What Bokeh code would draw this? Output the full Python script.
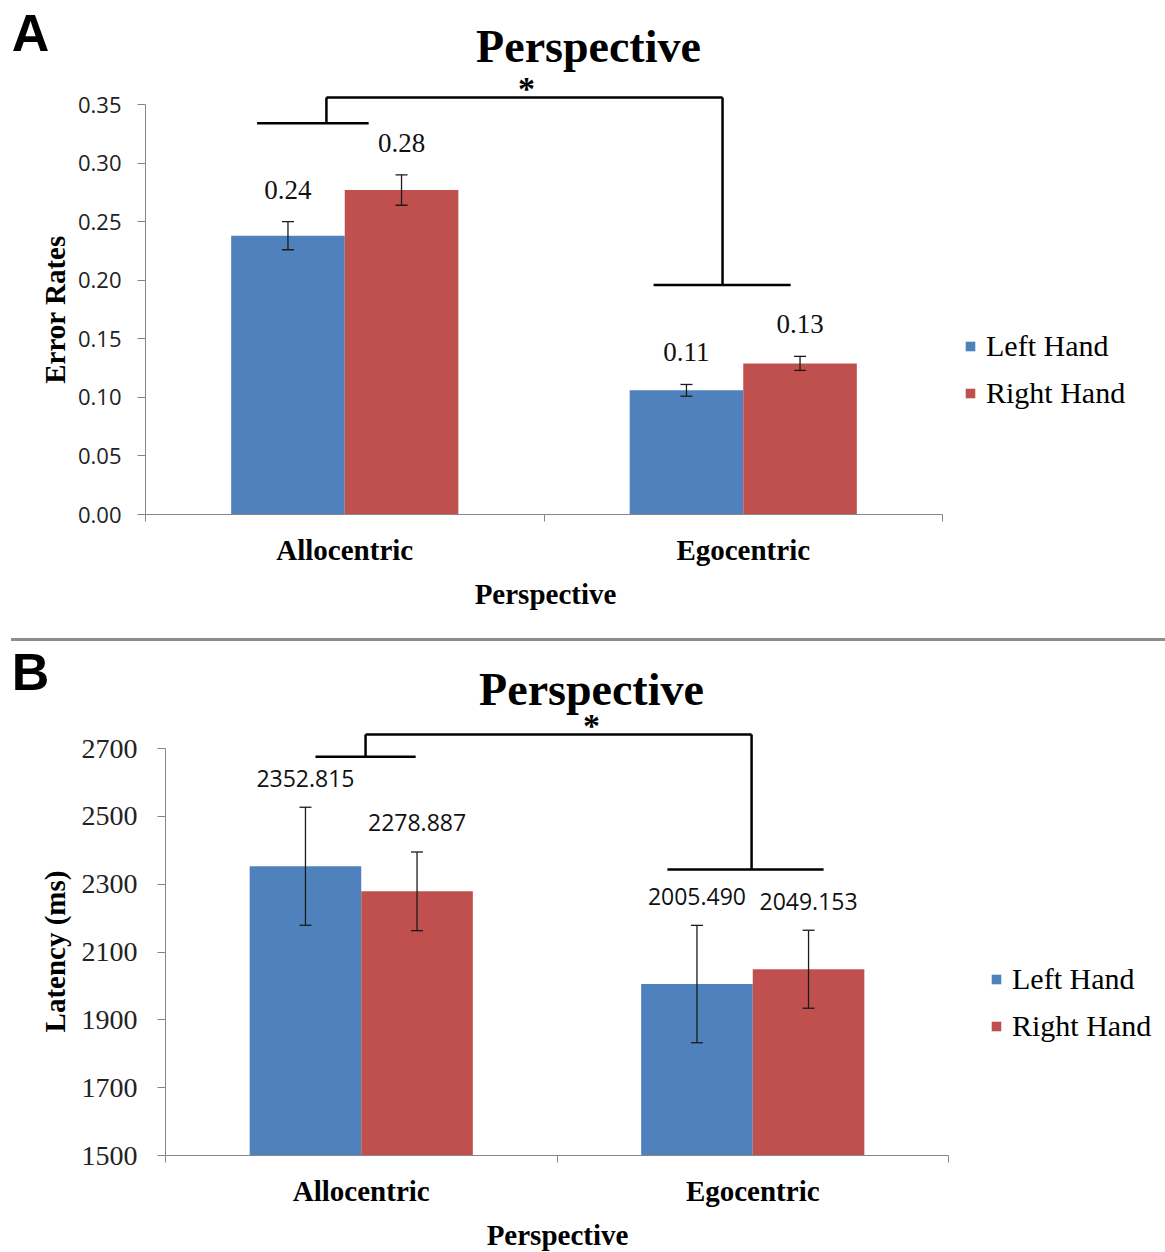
import math
from bokeh.plotting import figure
from bokeh.models import (Range1d, FixedTicker, NumeralTickFormatter, Whisker, TeeHead,
                          ColumnDataSource, Legend, LegendItem, Label, Div)
from bokeh.layouts import column
from bokeh.core.properties import value
from bokeh.embed import file_html
from bokeh.resources import INLINE

# ---------------- data ----------------
categories = ["Allocentric", "Egocentric"]
series = ["Left Hand", "Right Hand"]
colors = ["#4F81BD", "#C0504D"]

# Panel A: error rates
err_left = [0.238, 0.106]
err_right = [0.277, 0.129]
err_left_se = [0.012, 0.005]
err_right_se = [0.013, 0.006]
err_left_labels = ["0.24", "0.11"]
err_right_labels = ["0.28", "0.13"]
err_ticks = [0.00, 0.05, 0.10, 0.15, 0.20, 0.25, 0.30, 0.35]

# Panel B: latency (ms)
lat_left = [2352.815, 2005.490]
lat_right = [2278.887, 2049.153]
lat_left_se = [174, 173]
lat_right_se = [116, 115]
lat_left_labels = ["2352.815", "2005.490"]
lat_right_labels = ["2278.887", "2049.153"]
lat_ticks = [1500, 1700, 1900, 2100, 2300, 2500, 2700]

# significance brackets (x in category units, y in data units)
sigA_left_x = [0.28, 0.56]
sigA_left_y = 0.334
sigA_join_x = [0.454, 1.448]
sigA_top_y = 0.356
sigA_right_x = [1.275, 1.619]
sigA_right_y = 0.196

sigB_left_x = [0.383, 0.639]
sigB_left_y = 2676
sigB_join_x = [0.511, 1.497]
sigB_top_y = 2741
sigB_right_x = [1.282, 1.681]
sigB_right_y = 2343

W = 1165
BAR_W = 0.285
SERIF = "Liberation Serif"
SANS = "Open Sans"
AXIS_GRAY = "#868686"


def build(h, fl, ax_end_px, y_lo, y_hi, y_lo_px, y_hi_px, ticks, tick_fmt,
          tick_font, tick_size, tick_standoff, ylabel, ylabel_px, xlabel_px,
          left, right, left_se, right_se, left_lab, right_lab, lab_font, lab_size, lab_off,
          sig, letter, letter_px, title_px, legend_px, star_px_x):
    # pixel <-> data mapping (frame covers the whole canvas)
    pxx = (ax_end_px - fl) / 2.0
    pxy = (y_lo_px - y_hi_px) / (y_hi - y_lo)
    ax = lambda px: (px - fl) / pxx
    ay = lambda py: y_lo + (y_lo_px - py) / pxy
    p = figure(width=W, height=h,
               x_range=Range1d(ax(0), ax(W)),
               y_range=Range1d(ay(h), ay(0)),
               output_backend="svg", toolbar_location=None,
               min_border_left=0, min_border_right=0,
               min_border_top=0, min_border_bottom=0)
    p.xgrid.grid_line_color = None
    p.ygrid.grid_line_color = None
    p.outline_line_color = None
    p.background_fill_color = "white"
    p.border_fill_color = "white"

    centers = [i + 0.5 for i in range(len(categories))]
    xl = [c - BAR_W / 2 for c in centers]
    xr = [c + BAR_W / 2 for c in centers]
    rb = p.vbar(x=xl, top=left, bottom=y_lo, width=BAR_W, fill_color=colors[0], line_color=None)
    rr = p.vbar(x=xr, top=right, bottom=y_lo, width=BAR_W, fill_color=colors[1], line_color=None)

    for xs, m, se, labs in ((xl, left, left_se, left_lab), (xr, right, right_se, right_lab)):
        src = ColumnDataSource(dict(x=xs, upper=[a + b for a, b in zip(m, se)],
                                    lower=[a - b for a, b in zip(m, se)], lab=labs))
        wk = Whisker(base="x", upper="upper", lower="lower", source=src,
                     line_color="#1b1b1b", line_width=1.3,
                     upper_head=TeeHead(size=12, line_color="#1b1b1b", line_width=1.3),
                     lower_head=TeeHead(size=12, line_color="#1b1b1b", line_width=1.3))
        wk.level = "overlay"
        p.add_layout(wk)
        p.text(x="x", y="upper", text="lab", source=src, text_font=value(lab_font),
               text_font_size=lab_size, text_align="center", text_baseline="middle",
               y_offset=lab_off, text_color="#111111")

    # significance bracket
    (lx, ly, jx, ty, rx, ry) = sig
    p.segment(x0=[lx[0], jx[0], jx[0], jx[1], rx[0]],
              y0=[ly, ly, ty, ty, ry],
              x1=[lx[1], jx[0], jx[1], jx[1], rx[1]],
              y1=[ly, ty, ty, ry, ry], line_color="black", line_width=2.5)
    p.text(x=[ax(star_px_x)], y=[ty], text=["*"], text_font=value(SERIF),
           text_font_style="bold", text_font_size="34px", text_align="center",
           text_baseline="alphabetic", y_offset=-9, text_color="black")

    # axes (pinned at data positions)
    p.xaxis.fixed_location = y_lo
    p.xaxis.ticker = FixedTicker(ticks=centers, minor_ticks=[0, 1, 2])
    p.xaxis.major_label_overrides = {c: n for c, n in zip(centers, categories)}
    p.xaxis.bounds = (0, 2)
    p.xaxis.axis_line_color = AXIS_GRAY
    p.xaxis.major_tick_out = 0
    p.xaxis.major_tick_in = 0
    p.xaxis.minor_tick_out = 7
    p.xaxis.minor_tick_in = 0
    p.xaxis.minor_tick_line_color = AXIS_GRAY
    p.xaxis.major_label_text_font = SERIF
    p.xaxis.major_label_text_font_style = "bold"
    p.xaxis.major_label_text_font_size = "29px"
    p.xaxis.major_label_text_color = "black"
    p.xaxis.major_label_standoff = 12

    p.yaxis.fixed_location = 0
    p.yaxis.ticker = FixedTicker(ticks=ticks)
    p.yaxis.formatter = NumeralTickFormatter(format=tick_fmt)
    p.yaxis.bounds = (ticks[0], ticks[-1])
    p.yaxis.axis_line_color = AXIS_GRAY
    p.yaxis.major_tick_line_color = AXIS_GRAY
    p.yaxis.major_tick_out = 8
    p.yaxis.major_tick_in = 0
    p.yaxis.minor_tick_line_color = None
    p.yaxis.major_label_text_font = tick_font
    p.yaxis.major_label_text_font_size = tick_size
    p.yaxis.major_label_text_color = "#222222"
    p.yaxis.major_label_standoff = tick_standoff

    # axis titles, centred on the axis extents
    p.add_layout(Label(x=ax(xlabel_px[0]), y=ay(xlabel_px[1]), text="Perspective",
                       text_font=SERIF, text_font_style="bold", text_font_size="29px",
                       text_align="center", text_baseline="middle", text_color="black"))
    p.add_layout(Label(x=ax(ylabel_px[0]), y=ay(ylabel_px[1]), text=ylabel, angle=math.pi / 2,
                       text_font=SERIF, text_font_style="bold", text_font_size="29px",
                       text_align="center", text_baseline="middle", text_color="black"))

    legend = Legend(items=[LegendItem(label=series[0], renderers=[rb]),
                           LegendItem(label=series[1], renderers=[rr])],
                    location=(legend_px[0], h - legend_px[1]), glyph_width=12, glyph_height=12,
                    label_text_font=SERIF, label_text_font_size="30px",
                    label_text_color="black", label_standoff=10, spacing=13,
                    padding=0, margin=0, border_line_alpha=0, background_fill_alpha=0)
    p.add_layout(legend)

    p.add_layout(Label(x=ax(letter_px[0]), y=ay(letter_px[1]), text=letter,
                       text_font="Liberation Sans", text_font_style="bold",
                       text_font_size="52px", text_align="center", text_baseline="middle",
                       text_color="black"))
    p.add_layout(Label(x=ax(title_px[0]), y=ay(title_px[1]), text="Perspective",
                       text_font=SERIF, text_font_style="bold", text_font_size="46px",
                       text_align="center", text_baseline="middle", text_color="black"))
    return p


pA = build(h=638, fl=145, ax_end_px=942,
           y_lo=0.0, y_hi=0.35, y_lo_px=514, y_hi_px=104,
           ticks=err_ticks, tick_fmt="0.00", tick_font=SANS, tick_size="22px",
           tick_standoff=16, ylabel="Error Rates", ylabel_px=(54, 309), xlabel_px=(545, 593),
           left=err_left, right=err_right, left_se=err_left_se, right_se=err_right_se,
           left_lab=err_left_labels, right_lab=err_right_labels,
           lab_font=SERIF, lab_size="27px", lab_off=-32,
           sig=(sigA_left_x, sigA_left_y, sigA_join_x, sigA_top_y, sigA_right_x, sigA_right_y),
           letter="A", letter_px=(30, 32), title_px=(588, 46), legend_px=(964, 410),
           star_px_x=526)

sep = Div(text="", width=1154, height=3, margin=(0, 0, 0, 11),
          styles={"background-color": "#8c8c8c"})

# panel B figure starts at y = 641 in the page
TOP_B = 641
pB = build(h=611, fl=165, ax_end_px=948,
           y_lo=1500, y_hi=2700, y_lo_px=1155 - TOP_B, y_hi_px=748 - TOP_B,
           ticks=lat_ticks, tick_fmt="0", tick_font=SERIF, tick_size="28px",
           tick_standoff=20, ylabel="Latency (ms)", ylabel_px=(54, 951 - TOP_B),
           xlabel_px=(557, 1234 - TOP_B),
           left=lat_left, right=lat_right, left_se=lat_left_se, right_se=lat_right_se,
           left_lab=lat_left_labels, right_lab=lat_right_labels,
           lab_font=SANS, lab_size="23px", lab_off=-29,
           sig=(sigB_left_x, sigB_left_y, sigB_join_x, sigB_top_y, sigB_right_x, sigB_right_y),
           letter="B", letter_px=(30, 671 - TOP_B), title_px=(591, 689 - TOP_B),
           legend_px=(990, 1043 - TOP_B), star_px_x=591)

layout = column(pA, sep, pB, spacing=0)
open("out.html", "w").write(file_html(layout, INLINE))
